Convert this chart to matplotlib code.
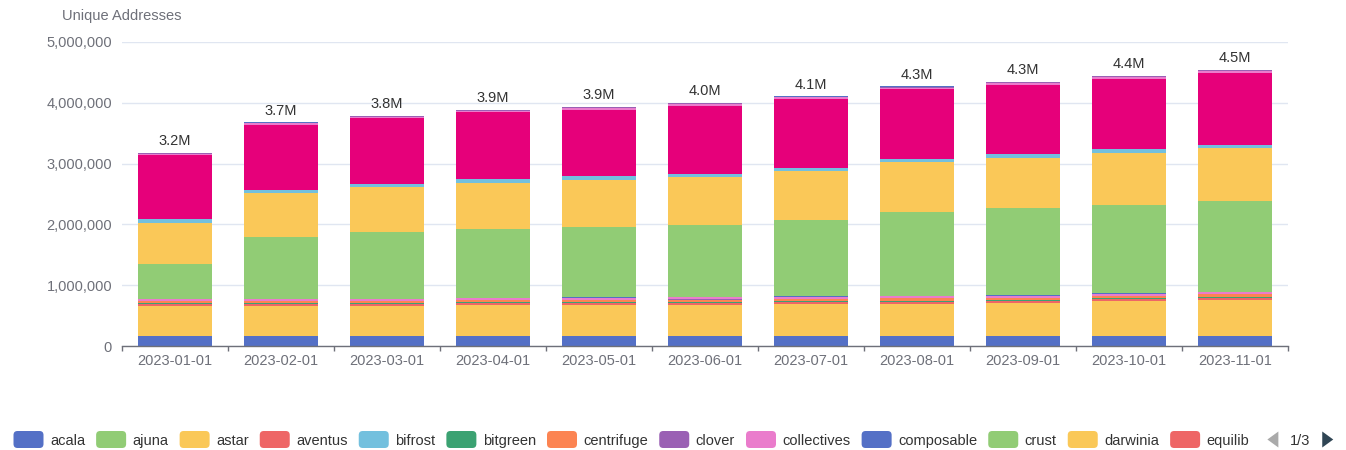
import matplotlib
matplotlib.use("Agg")
import matplotlib.pyplot as plt
import numpy as np
from matplotlib.patches import FancyBboxPatch, Polygon
from matplotlib.transforms import IdentityTransform
from matplotlib.ticker import FuncFormatter, FixedLocator

# ---------------- data (thousands of unique addresses) ----------------
months = ["2023-01-01", "2023-02-01", "2023-03-01", "2023-04-01", "2023-05-01",
          "2023-06-01", "2023-07-01", "2023-08-01", "2023-09-01", "2023-10-01",
          "2023-11-01"]

acala       = [169, 159, 162, 162, 163, 163, 164, 164, 165, 165, 166]
ajuna       = [1, 1, 1, 1, 1, 1, 1, 1, 1, 1, 1]
astar       = [487, 497, 500, 507, 509, 514, 520, 530, 540, 573, 594]
aventus     = [30, 32, 28, 31, 32, 32, 33, 33, 31, 30, 32]
bifrost     = [3, 3, 3, 3, 3, 3, 3, 3, 3, 3, 3]
bitgreen    = [14, 14, 13, 14, 15, 15, 15, 15, 15, 15, 16]
centrifuge  = [33, 34, 31, 34, 36, 36, 38, 38, 36, 36, 37]
clover      = [3, 3, 3, 3, 3, 3, 3, 3, 3, 3, 3]
collectives = [27, 29, 27, 30, 32, 32, 33, 33, 32, 33, 34]
composable  = [5, 5, 5, 5, 6, 6, 6, 6, 6, 6, 6]
crust       = [570, 1018, 1095, 1140, 1154, 1182, 1258, 1374, 1434, 1462, 1490]
darwinia    = [683, 722, 747, 756, 781, 793, 800, 820, 832, 848, 875]
equilib     = [2, 2, 2, 2, 2, 2, 2, 2, 2, 2, 2]
hydradx     = [58, 54, 53, 59, 53, 51, 58, 58, 57, 58, 53]
polkadot    = [1057, 1068, 1080, 1103, 1095, 1122, 1134, 1140, 1143, 1155, 1183]
statemint   = [18, 21, 17, 17, 25, 26, 22, 29, 23, 29, 29]
unique      = [10, 12, 9, 9, 14, 14, 11, 15, 12, 15, 15]
zeitgeist   = [4, 4, 4, 4, 5, 5, 5, 6, 5, 6, 6]

series_names = ["acala", "ajuna", "astar", "aventus", "bifrost", "bitgreen",
                "centrifuge", "clover", "collectives", "composable", "crust",
                "darwinia", "equilib", "hydradx", "polkadot", "statemint",
                "unique", "zeitgeist"]
series_values = [acala, ajuna, astar, aventus, bifrost, bitgreen, centrifuge,
                 clover, collectives, composable, crust, darwinia, equilib,
                 hydradx, polkadot, statemint, unique, zeitgeist]
legend_count = 13
legend_page = "1/3"

palette = ['#5470c6', '#91cc75', '#fac858', '#ee6666', '#73c0de',
           '#3ba272', '#fc8452', '#9a60b4', '#ea7ccc']
series_colors = [palette[i % 9] for i in range(len(series_names))]
series_colors[series_names.index("polkadot")] = '#e6007a'
series_colors[series_names.index("statemint")] = '#ea7ccc'
series_colors[series_names.index("unique")] = '#9a60b4'
series_colors[series_names.index("zeitgeist")] = '#5470c6'

# ---------------- figure ----------------
plt.rcParams['font.family'] = ['Liberation Sans', 'DejaVu Sans']
W, H = 1346, 450
fig = plt.figure(figsize=(W / 100, H / 100), dpi=100)
ax = fig.add_axes([122 / W, 104 / H, 1166 / W, 304 / H])

x = np.arange(len(months))
bottom = np.zeros(len(months))
for name, vals, col in zip(series_names, series_values, series_colors):
    v = np.array(vals, dtype=float) * 1000
    ax.bar(x, v, width=0.69, bottom=bottom, color=col, linewidth=0, zorder=2)
    bottom += v

for xi, tot in zip(x, bottom):
    ax.annotate(f"{tot / 1e6:.1f}M", (xi, tot), xytext=(0, 3.4),
                textcoords='offset points', ha='center', va='bottom',
                fontsize=10.5, color='#333333')

ax.set_xlim(-0.5, len(months) - 0.5)
ax.set_ylim(0, 5e6)
ax.set_yticks(np.arange(0, 5e6 + 1, 1e6))
ax.yaxis.set_major_formatter(FuncFormatter(lambda v, p: f"{int(v):,}"))
ax.tick_params(axis='y', length=0, pad=7.2, labelcolor='#6e7079', labelsize=10.5)
ax.yaxis.grid(True, color='#e0e6f1', linewidth=1)
ax.set_axisbelow(True)

ax.set_xticks(x)
ax.set_xticklabels(months)
ax.tick_params(axis='x', which='major', length=0, pad=5.5,
               labelcolor='#6e7079', labelsize=10.5)
ax.xaxis.set_minor_locator(FixedLocator(np.arange(-0.5, len(months), 1.0)))
ax.tick_params(axis='x', which='minor', length=3.6, width=1, color='#6e7079')

for s in ['left', 'right', 'top']:
    ax.spines[s].set_visible(False)
ax.spines['bottom'].set_color('#6e7079')
ax.spines['bottom'].set_linewidth(1)

fig.text(121.5 / W, 1 - 16 / H, "Unique Addresses", ha='center', va='center',
         fontsize=10.5, color='#6e7079')

# ---------------- legend (page 1) ----------------
renderer = fig.canvas.get_renderer()
ycen = 10.5  # pixels from bottom
cur = 13.5
rw, rh = 30, 17
for name, col in zip(series_names[:legend_count], series_colors[:legend_count]):
    p = FancyBboxPatch((cur, ycen - rh / 2), rw, rh,
                       boxstyle="round,pad=0,rounding_size=4",
                       facecolor=col, edgecolor='none', transform=IdentityTransform())
    fig.add_artist(p)
    t = fig.text((cur + rw + 6.6) / W, ycen / H, name, ha='left', va='center_baseline',
                 fontsize=10.5, color='#333333')
    tw = t.get_window_extent(renderer).width
    cur = cur + rw + 6.6 + tw + 10.9

# pager
ax_l = cur + 7
tri_w, tri_h = 11, 16
fig.add_artist(Polygon([[ax_l + tri_w, ycen + tri_h / 2], [ax_l + tri_w, ycen - tri_h / 2],
                        [ax_l, ycen]], closed=True, facecolor='#aaaaaa',
                       edgecolor='none', transform=IdentityTransform()))
t = fig.text((ax_l + tri_w + 11.5) / W, ycen / H, legend_page, ha='left',
             va='center_baseline', fontsize=10.5, color='#333333')
tw = t.get_window_extent(renderer).width
ar = ax_l + tri_w + 11.5 + tw + 12
fig.add_artist(Polygon([[ar, ycen + tri_h / 2], [ar, ycen - tri_h / 2],
                        [ar + tri_w, ycen]], closed=True, facecolor='#2f4554',
                       edgecolor='none', transform=IdentityTransform()))

fig.savefig("out.png", dpi=100)
